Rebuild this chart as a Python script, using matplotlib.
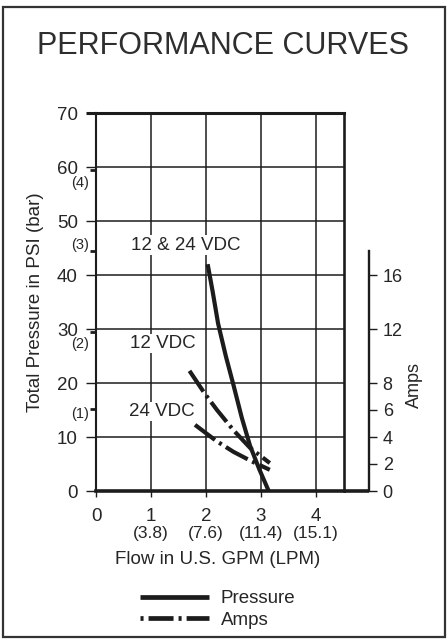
import matplotlib

matplotlib.use("Agg")
import matplotlib.pyplot as plt
import matplotlib.transforms as mtransforms
from matplotlib.lines import Line2D
from matplotlib.patches import Rectangle

# axis values
flow_ticks = [0, 1, 2, 3, 4]
lpm_labels = ["(3.8)", "(7.6)", "(11.4)", "(15.1)"]
psi_ticks = [0, 10, 20, 30, 40, 50, 60, 70]
bar_labels = ["(1)", "(2)", "(3)", "(4)"]
bar_tick_psi = [15.2, 29.4, 44.5, 59.4]
bar_label_psi = [14.2, 27.2, 45.6, 57.0]
amp_ticks = [0, 2, 4, 6, 8, 12, 16]

# pressure curve (12 & 24 VDC), GPM vs PSI
pressure_gpm = [2.03, 2.12, 2.22, 2.36, 2.50, 2.65, 2.80, 2.97, 3.14]
pressure_psi = [42.0, 37.0, 31.0, 25.0, 19.6, 13.6, 8.4, 4.0, 0.0]

# amp draw, GPM vs amps
amps12_gpm = [1.70, 1.98, 2.20, 2.50, 2.80, 3.16]
amps12_a = [8.9, 7.2, 6.0, 4.5, 3.2, 2.07]
amps24_gpm = [1.80, 2.19, 2.50, 2.83, 3.16]
amps24_a = [4.9, 3.7, 2.9, 2.2, 1.57]

INK = "#1c1c1c"
TXT = "#262626"
FS = 13.5

plt.rcParams.update({
    "font.family": ["Liberation Sans", "DejaVu Sans"],
    "font.size": FS,
    "lines.scale_dashes": False,
    "text.color": TXT,
    "xtick.color": TXT,
    "ytick.color": TXT,
})

W, H = 448, 639
fig = plt.figure(figsize=(W / 100, H / 100), dpi=100)


def fx(px):
    return px / W


def fy(py):
    return 1 - py / H


ax = fig.add_axes([fx(96), fy(491), 247.5 / W, 378 / H])
ax.set_xlim(0, 4.5)
ax.set_ylim(0, 70)
ax.set_xticks(flow_ticks)
ax.set_yticks(psi_ticks)
ax.grid(True, color=INK, linewidth=1.1)
ax.tick_params(axis="y", direction="out", length=7.5, width=1.0, pad=5.5, labelsize=FS, color=INK)
ax.tick_params(axis="x", direction="out", length=4.5, width=1.0, pad=7.5, labelsize=FS, color=INK)
ax.yaxis.get_major_ticks()[-1].tick1line.set_markeredgewidth(2.2)
for side, lw in [("left", 1.5), ("right", 1.9), ("top", 2.2), ("bottom", 2.6)]:
    ax.spines[side].set_linewidth(lw)
    ax.spines[side].set_color(INK)

# bar sub-ticks on the left axis
ax.set_yticks(bar_tick_psi, minor=True)
ax.tick_params(axis="y", which="minor", direction="out", length=4, width=2.0, color=INK)
lab_tr = mtransforms.blended_transform_factory(ax.transAxes, ax.transData)
for lab, yv in zip(bar_labels, bar_label_psi):
    ax.text(-0.028, yv, lab, transform=lab_tr, ha="right", va="center", fontsize=10.5)

# LPM labels under the GPM ticks
lpm_tr = mtransforms.blended_transform_factory(ax.transData, ax.transAxes)
for xv, lab in zip(flow_ticks[1:], lpm_labels):
    ax.text(xv, -0.113, lab, transform=lpm_tr, ha="center", va="center", fontsize=12.5)

# baseline running on to the amps axis
ax.axhline(0, xmin=1, xmax=1.105, color=INK, linewidth=2.6, clip_on=False, solid_capstyle="butt")

p_line, = ax.plot(pressure_gpm, pressure_psi, color=INK, linewidth=3.0,
                  solid_capstyle="butt", solid_joinstyle="round", zorder=4)

# amps axis
ax2 = ax.twinx()
ax2.set_ylim(0, 28)
ax2.set_yticks(amp_ticks)
for side in ["left", "top", "bottom"]:
    ax2.spines[side].set_visible(False)
ax2.spines["right"].set_position(("axes", 1.105))
ax2.spines["right"].set_bounds(0, 17.8)
ax2.spines["right"].set_linewidth(1.7)
ax2.spines["right"].set_color(INK)
ax2.tick_params(axis="y", direction="out", length=6, width=1.0, pad=3.5, labelsize=13, color=INK)

dash = (0, (18, 3.6, 2.2, 3.6))
a_line, = ax2.plot(amps12_gpm, amps12_a, color=INK, linewidth=3.0, linestyle=dash,
                   dash_capstyle="butt", dash_joinstyle="round", zorder=4)
ax2.plot(amps24_gpm, amps24_a, color=INK, linewidth=3.0, linestyle=dash,
         dash_capstyle="butt", dash_joinstyle="round", zorder=4)

# curve annotations
box = dict(facecolor="white", edgecolor="none", pad=1.0)
ax.text(1.64, 45.5, "12 & 24 VDC", ha="center", va="center", fontsize=FS, bbox=box, zorder=3)
ax.text(1.21, 27.3, "12 VDC", ha="center", va="center", fontsize=FS, bbox=box, zorder=3)
ax.text(1.19, 14.7, "24 VDC", ha="center", va="center", fontsize=FS, bbox=box, zorder=3)

# titles and axis labels
fig.text(fx(223), fy(46), "PERFORMANCE CURVES", ha="center", va="center", fontsize=22, color="#2e2e2e")
fig.text(fx(36), fy(302), "Total Pressure in PSI (bar)", rotation=90, ha="center", va="center", fontsize=13.5)
fig.text(fx(414), fy(385), "Amps", rotation=90, ha="center", va="center", fontsize=13)
fig.text(fx(218), fy(559), "Flow in U.S. GPM (LPM)", ha="center", va="center", fontsize=13.5)

# legend
amps_key = Line2D([], [], color=INK, linewidth=3.4, linestyle=(21.6, (18, 3.6, 2.2, 3.6)), dash_capstyle="butt")
press_key = Line2D([], [], color=INK, linewidth=3.4, solid_capstyle="butt")
fig.legend([press_key, amps_key], ["Pressure", "Amps"], loc="upper left",
           bbox_to_anchor=(fx(140), fy(590)), frameon=False, fontsize=FS,
           handlelength=3.7, handletextpad=0.6, labelspacing=0.25, borderpad=0, borderaxespad=0)

# outer frame
fig.patches.append(Rectangle((fx(3), fy(637)), 442 / W, 630 / H, transform=fig.transFigure,
                             fill=False, edgecolor="#333333", linewidth=1.6))

fig.savefig("out.png", dpi=100)
